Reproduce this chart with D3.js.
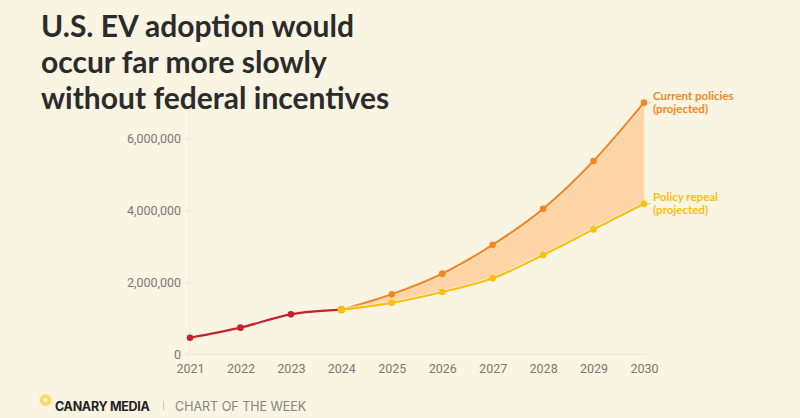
<!DOCTYPE html>
<html>
<head>
<meta charset="utf-8">
<script src="https://cdn.jsdelivr.net/npm/d3@7"></script>
<style>
  html, body { margin: 0; padding: 0; background: #faf5e3; }
  svg { display: block; }
</style>
</head>
<body>
<div id="chart"></div>
<script>
// 数据: 估计值
const years = [2021, 2022, 2023, 2024, 2025, 2026, 2027, 2028, 2029, 2030];
const historyYears = [2021, 2022, 2023, 2024];
const historyValues = [460000, 740000, 1110000, 1240000];
const projYears = [2024, 2025, 2026, 2027, 2028, 2029, 2030];
const currentValues = [1240000, 1670000, 2240000, 3040000, 4040000, 5370000, 6990000];
const repealValues = [1240000, 1430000, 1730000, 2110000, 2760000, 3470000, 4180000];
const yTicks = [0, 2000000, 4000000, 6000000];
const titleLines = ["U.S. EV adoption would", "occur far more slowly", "without federal incentives"];

const W = 800, H = 418;
const colors = { hist: "#c8202a", current: "#f5861f", repeal: "#fbbf10", band: "#fdd3a3" };

const svg = d3.select("#chart").append("svg").attr("width", W).attr("height", H);
svg.append("rect").attr("width", W).attr("height", H).attr("fill", "#faf5e3");

const x = d3.scaleLinear().domain([2021, 2030]).range([190, 644]);
const y = d3.scaleLinear().domain([0, 6000000]).range([354.3, 138.3]);

// 网格/轴线
const axisG = svg.append("g");
axisG.append("line").attr("x1", x(2021)).attr("x2", x(2021))
  .attr("y1", 88).attr("y2", y(0)).attr("stroke", "#ece8dc").attr("stroke-width", 1);
axisG.append("line").attr("x1", x(2021)).attr("x2", x(2030) + 2)
  .attr("y1", y(0)).attr("y2", y(0)).attr("stroke", "#ece8dc").attr("stroke-width", 1.5);

const yAxis = d3.axisLeft(y).tickValues(yTicks).tickSize(4).tickPadding(4)
  .tickFormat((d) => d3.format(",")(d));
const gy = svg.append("g").attr("transform", `translate(${x(2021) - 1},0)`).call(yAxis);
gy.select(".domain").remove();
gy.selectAll("line").attr("stroke", "#e2ded2");
gy.selectAll("text").attr("fill", "#7a7872").style("font-family", "Roboto, 'Noto Sans', sans-serif")
  .style("font-size", "12.5px").attr("dy", "0.35em");

const xAxis = d3.axisBottom(x).tickValues(years).tickSize(0).tickPadding(10).tickFormat(d3.format("d"));
const gx = svg.append("g").attr("transform", `translate(0,${y(0)})`).call(xAxis);
gx.select(".domain").remove();
gx.selectAll("text").attr("fill", "#7a7872").style("font-family", "Roboto, 'Noto Sans', sans-serif")
  .style("font-size", "12.5px");

// 两条预测线之间的区域
const band = projYears.map((yr, i) => ({ yr, hi: currentValues[i], lo: repealValues[i] }));
svg.append("path").datum(band)
  .attr("fill", colors.band).attr("opacity", 0.95)
  .attr("d", d3.area().x((d) => x(d.yr)).y0((d) => y(d.lo)).y1((d) => y(d.hi)).curve(d3.curveMonotoneX));

function series(yrs, vals, color) {
  const pts = yrs.map((yr, i) => ({ yr, v: vals[i] }));
  const line = d3.line().x((d) => x(d.yr)).y((d) => y(d.v)).curve(d3.curveMonotoneX);
  svg.append("path").datum(pts).attr("fill", "none").attr("stroke", "#fffaf0")
    .attr("stroke-width", 4).attr("opacity", 0.7).attr("d", line);
  svg.append("path").datum(pts).attr("fill", "none").attr("stroke", color)
    .attr("stroke-width", 2.2).attr("d", line);
  svg.append("g").selectAll("circle").data(pts).join("circle")
    .attr("cx", (d) => x(d.yr)).attr("cy", (d) => y(d.v)).attr("r", 3.3).attr("fill", color);
}
series(projYears, currentValues, colors.current);
series(projYears, repealValues, colors.repeal);
series(historyYears, historyValues, colors.hist);
// 2024 点为黄色
svg.append("circle").attr("cx", x(2024)).attr("cy", y(historyValues[3])).attr("r", 3.8).attr("fill", colors.repeal);

// 线末端标签
function endLabel(val, lines, color) {
  const yy = y(val);
  svg.append("line").attr("x1", x(2030) + 3).attr("x2", x(2030) + 7)
    .attr("y1", yy).attr("y2", yy).attr("stroke", "#c9c6bd").attr("stroke-width", 1);
  const t = svg.append("text").attr("x", x(2030) + 9).attr("y", yy - 3)
    .attr("fill", color).style("font-family", "Lato, 'Noto Sans', sans-serif")
    .style("font-size", "11.5px").style("font-weight", 700);
  lines.forEach((s, i) => t.append("tspan").attr("x", x(2030) + 9).attr("dy", i === 0 ? 0 : 13.5).text(s));
}
endLabel(currentValues[6], ["Current policies", "(projected)"], colors.current);
endLabel(repealValues[6], ["Policy repeal", "(projected)"], colors.repeal);

// 标题
const title = svg.append("text").attr("fill", "#2b2b2b")
  .style("font-family", "Lato, 'Noto Sans', sans-serif").style("font-size", "30px").style("font-weight", 700);
titleLines.forEach((s, i) => title.append("tspan").attr("x", 41).attr("y", 37 + i * 36).text(s));

// 页脚
svg.append("circle").attr("cx", 45.5).attr("cy", 400).attr("r", 6).attr("fill", "#fcd96a");
svg.append("circle").attr("cx", 45.5).attr("cy", 400).attr("r", 2.2).attr("fill", "#fdf0c0");
svg.append("text").attr("x", 55).attr("y", 411).attr("fill", "#222")
  .style("font-family", "Inter, Roboto, sans-serif").style("font-size", "12.5px").style("font-weight", 700)
  .style("letter-spacing", "-0.3px").text("CANARY MEDIA");
svg.append("line").attr("x1", 163.5).attr("x2", 163.5).attr("y1", 401).attr("y2", 410).attr("stroke", "#ccc8bc");
svg.append("text").attr("x", 175).attr("y", 411).attr("fill", "#858380")
  .style("font-family", "Inter, Roboto, sans-serif").style("font-size", "12.5px")
  .text("CHART OF THE WEEK");
</script>
</body>
</html>
